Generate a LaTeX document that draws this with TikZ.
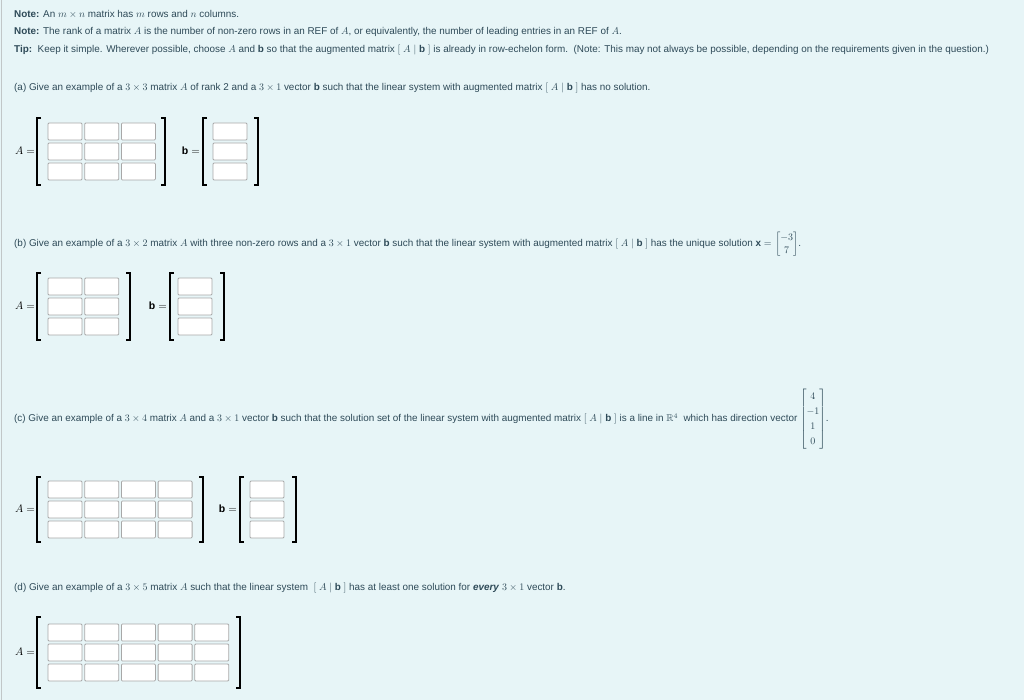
\documentclass[tikz,border=0pt]{standalone}
\usepackage{fontspec}
\setmainfont{Liberation Sans}
\usepackage{amsmath,amssymb}
\definecolor{bg}{HTML}{E7F5F7}
\definecolor{txt}{HTML}{2E4A58}
\definecolor{cellb}{HTML}{A8A8A8}
\tikzset{
 cell/.style={draw=cellb,fill=white,rounded corners=1pt,line width=0.8pt},
 brk/.style={line width=1.3pt,black},
 lbl/.style={anchor=west,inner sep=0,text=txt,font=\fontsize{9.9}{12}\selectfont},
 eq/.style={anchor=east,inner sep=0,font=\fontsize{10.5}{12}\selectfont}
}
\newcommand{\mycells}[4]{% x0, y0, ncols, nrows  (pixel coords)
 \foreach \c in {1,...,#3}{\foreach \r in {1,...,#4}{
  \draw[cell] ({#1+(\c-1)*36.7},{-(#2+(\r-1)*20)}) rectangle ++(34,-17);}}}
\newcommand{\mybrk}[4]{% xl, xr, yt, yb
 \draw[brk] (#1+4,-#3) -- (#1,-#3) -- (#1,-#4) -- (#1+4,-#4);
 \draw[brk] (#2-4,-#3) -- (#2,-#3) -- (#2,-#4) -- (#2-4,-#4);}
\begin{document}
\begin{tikzpicture}[x=1pt,y=1pt]
\fill[bg] (0,0) rectangle (1024,-700);
\useasboundingbox (0,0) rectangle (1024,-700);
\draw[color=cellb!60!bg,line width=1pt] (1.5,0) -- (1.5,-700);
\node[lbl] (n1) at (14,-14) {\textbf{Note:} An $m\times n$ matrix has $m$ rows and $n$ columns.};
\node[lbl] (n2) at (14,-32) {\textbf{Note:} The rank of a matrix $A$ is the number of non-zero rows in an REF of $A$, or equivalently, the number of leading entries in an REF of $A$.};
\node[lbl] (n3) at (14,-50) {\textbf{Tip:}\ \ Keep it simple. Wherever possible, choose $A$ and $\mathbf{b}$ so that the augmented matrix $[\ A\mid\mathbf{b}\ ]$ is already in row-echelon form.\ \ (Note: This may not always be possible, depending on the requirements given in the question.)};
\node[lbl] (qa) at (14,-88) {(a) Give an example of a $3\times3$ matrix $A$ of rank 2 and a $3\times1$ vector $\mathbf{b}$ such that the linear system with augmented matrix $[\ A\mid\mathbf{b}\ ]$ has no solution.};
\node[eq] (Aa) at (35,-151) {$A=$};
\mybrk{37}{165}{118}{185}
\mycells{48}{123}{3}{3}
\node[eq] (ba) at (200,-151) {$\mathbf{b}=$};
\mybrk{203}{258}{118}{185}
\mycells{213}{123}{1}{3}
\node[lbl] (qb) at (14,-244) {(b) Give an example of a $3\times2$ matrix $A$ with three non-zero rows and a $3\times1$ vector $\mathbf{b}$ such that the linear system with augmented matrix $[\ A\mid\mathbf{b}\ ]$ has the unique solution $\mathbf{x}=$};
\node[lbl,anchor=west,inner xsep=3pt,font=\fontsize{10}{12}\selectfont] (xv) at (qb.east) {\renewcommand\arraystretch{1.1}$\begin{bmatrix}-3\\7\end{bmatrix}$.};
\node[eq] (Ab) at (35,-306) {$A=$};
\mybrk{37}{130}{273}{340}
\mycells{48}{278}{2}{3}
\node[eq] (bb) at (167,-306) {$\mathbf{b}=$};
\mybrk{170}{224}{273}{340}
\mycells{178}{278}{1}{3}
\node[lbl] (qc) at (14,-419) {(c) Give an example of a $3\times4$ matrix $A$ and a $3\times1$ vector $\mathbf{b}$ such that the solution set of the linear system with augmented matrix $[\ A\mid\mathbf{b}\ ]$ is a line in $\mathbb{R}^4$\ \ which has direction vector};
\node[lbl,anchor=west,inner xsep=2pt,font=\fontsize{10}{12}\selectfont] (dv) at (qc.east) {\renewcommand\arraystretch{1.25}$\begin{bmatrix}4\\-1\\1\\0\end{bmatrix}$.};
\node[eq] (Ac) at (35,-509) {$A=$};
\mybrk{37}{203}{477}{542}
\mycells{48}{481}{4}{3}
\node[eq] (bc) at (237,-509) {$\mathbf{b}=$};
\mybrk{240}{296}{477}{542}
\mycells{250}{481}{1}{3}
\node[lbl] (qd) at (14,-588) {(d) Give an example of a $3\times5$ matrix $A$ such that the linear system\ \ $[\ A\mid\mathbf{b}\ ]$ has at least one solution for \textbf{\textit{every}} $3\times1$ vector $\mathbf{b}$.};
\node[eq] (Ad) at (35,-652) {$A=$};
\mybrk{37}{240}{617}{688}
\mycells{48}{624}{5}{3}
\end{tikzpicture}
\end{document}
